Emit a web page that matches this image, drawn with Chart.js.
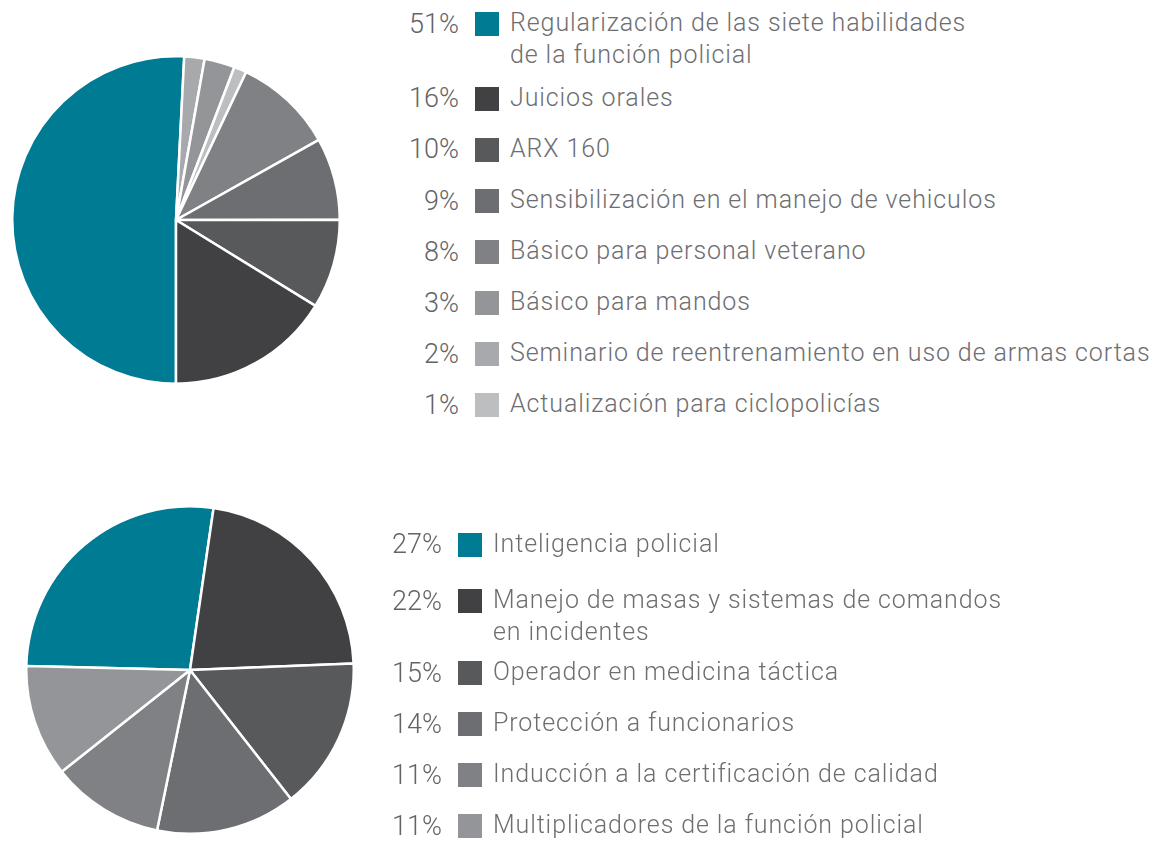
<!DOCTYPE html>
<html lang="es">
<head>
<meta charset="utf-8">
<script src="https://cdn.jsdelivr.net/npm/chart.js@4.4.0/dist/chart.umd.min.js"></script>
<style>
  html, body { margin:0; padding:0; background:#ffffff; }
  body { width:1166px; height:842px; position:relative; overflow:hidden; font-family: Roboto, "Open Sans", sans-serif; }
  canvas { position:absolute; }
  .pct { position:absolute; text-align:right; font-family: Roboto, sans-serif; font-weight:300; font-size:27px; line-height:27px; color:#636467; white-space:nowrap; }
  .sq { position:absolute; width:24px; height:24px; }
  .lbl { position:absolute; font-weight:300; font-size:25px; line-height:31.6px; color:#6d6e71; white-space:nowrap; letter-spacing:0.9px; }
</style>
</head>
<body>
<canvas id="topPie" width="330" height="330" style="left:11px;top:55px;width:330px;height:330px"></canvas>
<canvas id="bottomPie" width="330" height="330" style="left:25px;top:505px;width:330px;height:330px"></canvas>
<div id="legends"></div>
<script>
// ---------- DATA (top chart) : legend order ----------
const topCategories = [
  ["Regularización de las siete habilidades", "de la función policial"],
  ["Juicios orales"],
  ["ARX 160"],
  ["Sensibilización en el manejo de vehiculos"],
  ["Básico para personal veterano"],
  ["Básico para mandos"],
  ["Seminario de reentrenamiento en uso de armas cortas"],
  ["Actualización para ciclopolicías"]
];
const topPercentLabels = ["51%", "16%", "10%", "9%", "8%", "3%", "2%", "1%"];
// slice sizes as drawn in the picture (percent of circle), legend order
const topSliceValues = [50.75, 16.2, 8.8, 8.1, 9.8, 3.0, 2.0, 1.25];
// order in which slices appear clockwise from 6 o'clock
const topSliceOrder = [0, 6, 5, 7, 4, 3, 2, 1];
const topColors = ["#007b94", "#414042", "#58595b", "#6d6e71", "#808184", "#939598", "#a7a9ac", "#bcbec0"];

// ---------- DATA (bottom chart) : legend order ----------
const bottomCategories = [
  ["Inteligencia policial"],
  ["Manejo de masas y sistemas de comandos", "en incidentes"],
  ["Operador en medicina táctica"],
  ["Protección a funcionarios"],
  ["Inducción a la certificación de calidad"],
  ["Multiplicadores de la función policial"]
];
const bottomPercentLabels = ["27%", "22%", "15%", "14%", "11%", "11%"];
const bottomSliceValues = [26.9, 22.05, 15.06, 13.8, 11.1, 11.05];
const bottomColors = ["#007b94", "#414042", "#58595b", "#6d6e71", "#808184", "#939598"];

// ---------- LAYOUT ----------
const topLayout = { pctRight: 459, sqLeft: 475, textLeft: 510, centers: [24, 98.7, 149.7, 201, 252, 303, 354, 405] };
const bottomLayout = { pctRight: 442, sqLeft: 458, textLeft: 493, centers: [544.7, 601, 673, 724, 775, 826] };

function buildLegend(cats, pcts, colors, layout) {
  const host = document.getElementById('legends');
  cats.forEach((lines, i) => {
    const c = layout.centers[i];
    const p = document.createElement('div');
    p.className = 'pct';
    p.textContent = pcts[i];
    p.style.left = (layout.pctRight - 100) + 'px';
    p.style.width = '100px';
    p.style.top = (c - 13.3) + 'px';
    host.appendChild(p);
    const s = document.createElement('div');
    s.className = 'sq';
    s.style.left = layout.sqLeft + 'px';
    s.style.top = (c - 12) + 'px';
    s.style.background = colors[i];
    host.appendChild(s);
    const t = document.createElement('div');
    t.className = 'lbl';
    t.style.left = layout.textLeft + 'px';
    t.style.top = (c - 16.8) + 'px';
    lines.forEach((ln) => {
      const d = document.createElement('div');
      d.textContent = ln;
      t.appendChild(d);
    });
    host.appendChild(t);
  });
}

function makePie(id, labels, values, colors, rotation) {
  new Chart(document.getElementById(id), {
    type: 'pie',
    data: {
      labels: labels,
      datasets: [{
        data: values,
        backgroundColor: colors,
        borderColor: '#ffffff',
        borderWidth: 2.5,
        hoverOffset: 0
      }]
    },
    options: {
      responsive: false,
      animation: false,
      events: [],
      rotation: rotation,
      layout: { padding: 0 },
      plugins: { legend: { display: false }, tooltip: { enabled: false } }
    }
  });
}

// top pie: reorder to drawing order
const topLabelsDraw = topSliceOrder.map(i => topCategories[i].join(' '));
const topValuesDraw = topSliceOrder.map(i => topSliceValues[i]);
const topColorsDraw = topSliceOrder.map(i => topColors[i]);
makePie('topPie', topLabelsDraw, topValuesDraw, topColorsDraw, 180);

makePie('bottomPie', bottomCategories.map(l => l.join(' ')), bottomSliceValues, bottomColors, 271.4);

buildLegend(topCategories, topPercentLabels, topColors, topLayout);
buildLegend(bottomCategories, bottomPercentLabels, bottomColors, bottomLayout);
</script>
</body>
</html>
